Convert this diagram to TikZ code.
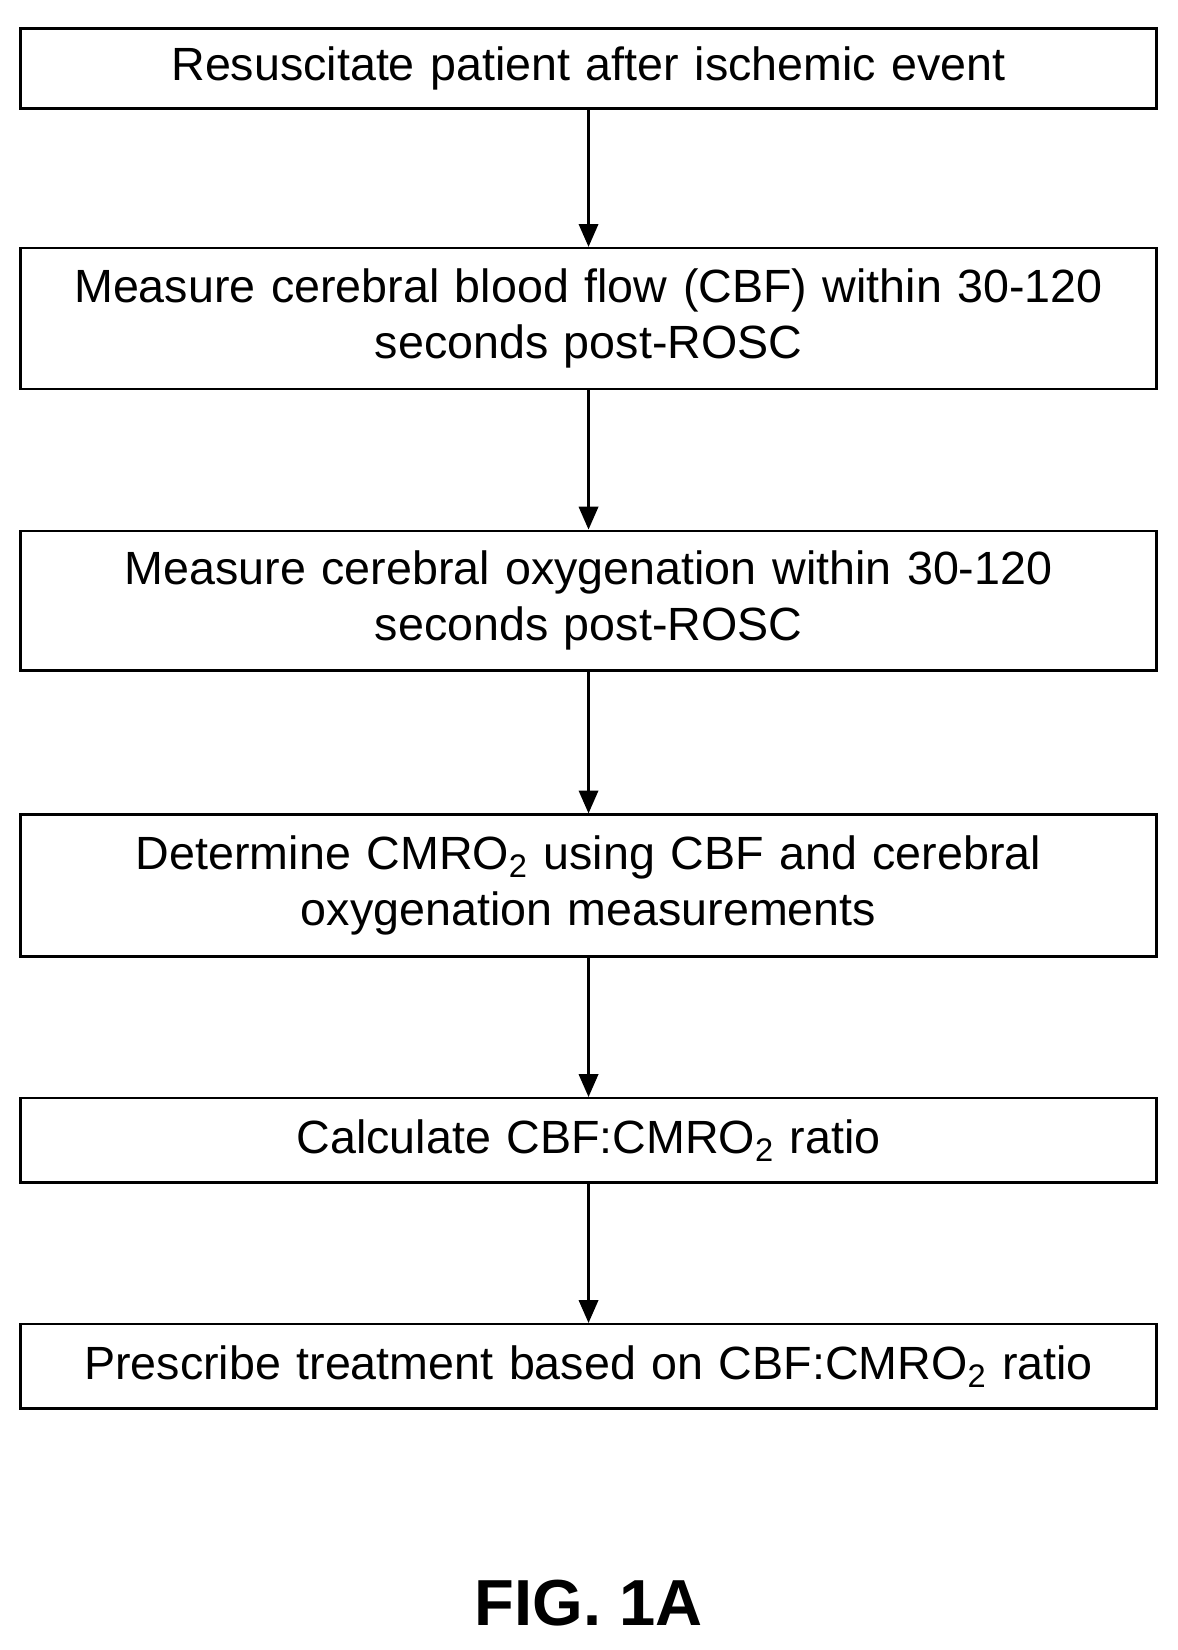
\documentclass[tikz,border=0pt]{standalone}
\usepackage{fontspec}
\setmainfont{Liberation Sans}
\usetikzlibrary{positioning,arrows.meta}
\tikzset{stepbox/.style={draw,line width=1.4pt,minimum width=22.7cm,text width=22cm,align=center,
  font=\fontsize{26.5}{32}\selectfont,inner sep=0pt},
  flow/.style={-{Triangle[length=13pt,width=11pt]},line width=1.4pt}}
\begin{document}
\begin{tikzpicture}[x=0.021cm,y=-0.021cm]
\useasboundingbox (0,0) rectangle (1120,1570);
\node [stepbox,minimum height=1.6cm] (resus) at (560,65) {Resuscitate patient after ischemic event};
\node [stepbox,minimum height=2.81cm] (cbf) at (560,303) {Measure cerebral blood flow (CBF) within 30-120\\seconds post-ROSC};
\node [stepbox,minimum height=2.79cm] (oxy) at (560,571.5) {Measure cerebral oxygenation within 30-120\\seconds post-ROSC};
\node [stepbox,minimum height=2.83cm] (cmro) at (560,842.5) {Determine CMRO\textsubscript{2} using CBF and cerebral\\oxygenation measurements};
\node [stepbox,minimum height=1.68cm] (ratio) at (560,1085) {Calculate CBF:CMRO\textsubscript{2} ratio};
\node [stepbox,minimum height=1.68cm] (treat) at (560,1300) {Prescribe treatment based on CBF:CMRO\textsubscript{2} ratio};
\node [font=\fontsize{37}{42}\selectfont\bfseries] (fig) at (560,1525) {FIG. 1A};

\draw [flow] (resus) -- (cbf);
\draw [flow] (cbf) -- (oxy);
\draw [flow] (oxy) -- (cmro);
\draw [flow] (cmro) -- (ratio);
\draw [flow] (ratio) -- (treat);
\end{tikzpicture}
\end{document}
